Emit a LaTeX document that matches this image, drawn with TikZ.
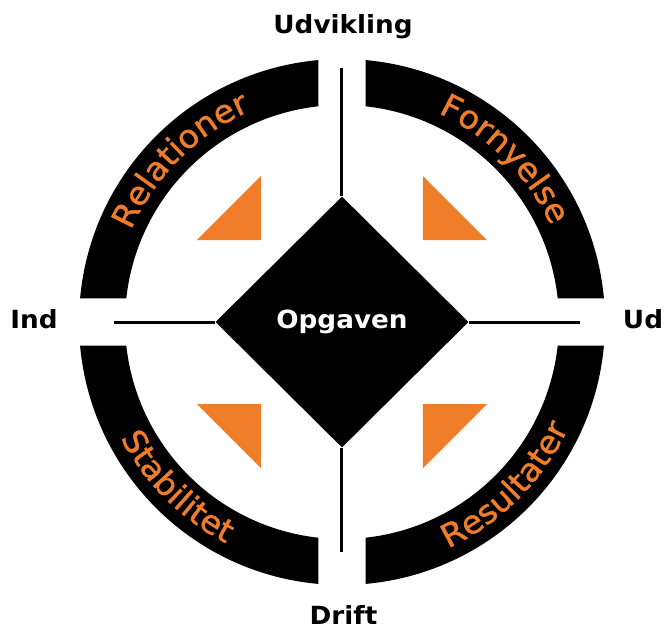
\documentclass[tikz,border=0pt]{standalone}
\usepackage{fontspec}
\usetikzlibrary{shapes.geometric,decorations.text}
\newfontfamily\lblfont[FakeStretch=1.05]{DejaVu Sans}
\newfontfamily\arcfont[FakeStretch=1.05,FakeBold=1.2]{DejaVu Sans}
\definecolor{orng}{RGB}{240,125,42}
\newcommand{\lblsize}{\lblfont\bfseries\fontsize{25}{26}\selectfont}
\newcommand{\arcsize}{\arcfont\fontsize{32}{33}\selectfont}
\tikzset{
  axis/.style={line width=3pt},
  lbl/.style={anchor=base,font=\lblsize},
  arctext/.style={decorate,decoration={text along path,text align=center,text color=orng,text={|\arcsize|#1}}}
}
\begin{document}
\begin{tikzpicture}[x=1pt,y=1pt]
  \useasboundingbox (-342,-308) rectangle (325,322);
  \foreach \r in {0,90,180,270} \fill ({\r+84.87}:263) arc[start angle=\r+84.87,end angle=\r+5.13,radius=263] -- ({\r+6.22}:217) arc[start angle=\r+6.22,end angle=\r+83.78,radius=217] -- cycle;
  \foreach \sx/\sy in {-1/1,1/1,-1/-1,1/-1} \fill[orng] (\sx*81,\sy*82) -- ++(0,\sy*64) -- ++(\sx*64,-\sy*64) -- cycle;
  \node[diamond,fill=black,minimum width=253pt,minimum height=251pt,inner sep=0pt,text=white,font=\lblsize] (opg) at (0,0) {Opgaven};
  \coordinate (top) at (0,254);
  \coordinate (bot) at (0,-230);
  \coordinate (lft) at (-228,0);
  \coordinate (rgt) at (238,0);
  \draw[axis] (opg.north) -- (top);
  \draw[axis] (opg.south) -- (bot);
  \draw[axis] (opg.west) -- (lft);
  \draw[axis] (opg.east) -- (rgt);
  \node[lbl] (udv) at (1,288) {Udvikling};
  \node[lbl] (ind) at (-308,-6.5) {Ind};
  \node[lbl] (ud) at (301,-6.5) {Ud};
  \node[lbl] (drift) at (1.5,-302) {Drift};
  \path[arctext=Relationer] (175:230) arc[start angle=175,end angle=95,radius=230];
  \path[arctext=Fornyelse] (85:230) arc[start angle=85,end angle=5,radius=230];
  \path[arctext=Stabilitet] (185:250) arc[start angle=185,end angle=265,radius=250];
  \path[arctext=Resultater] (275:250) arc[start angle=275,end angle=355,radius=250];
\end{tikzpicture}
\end{document}
